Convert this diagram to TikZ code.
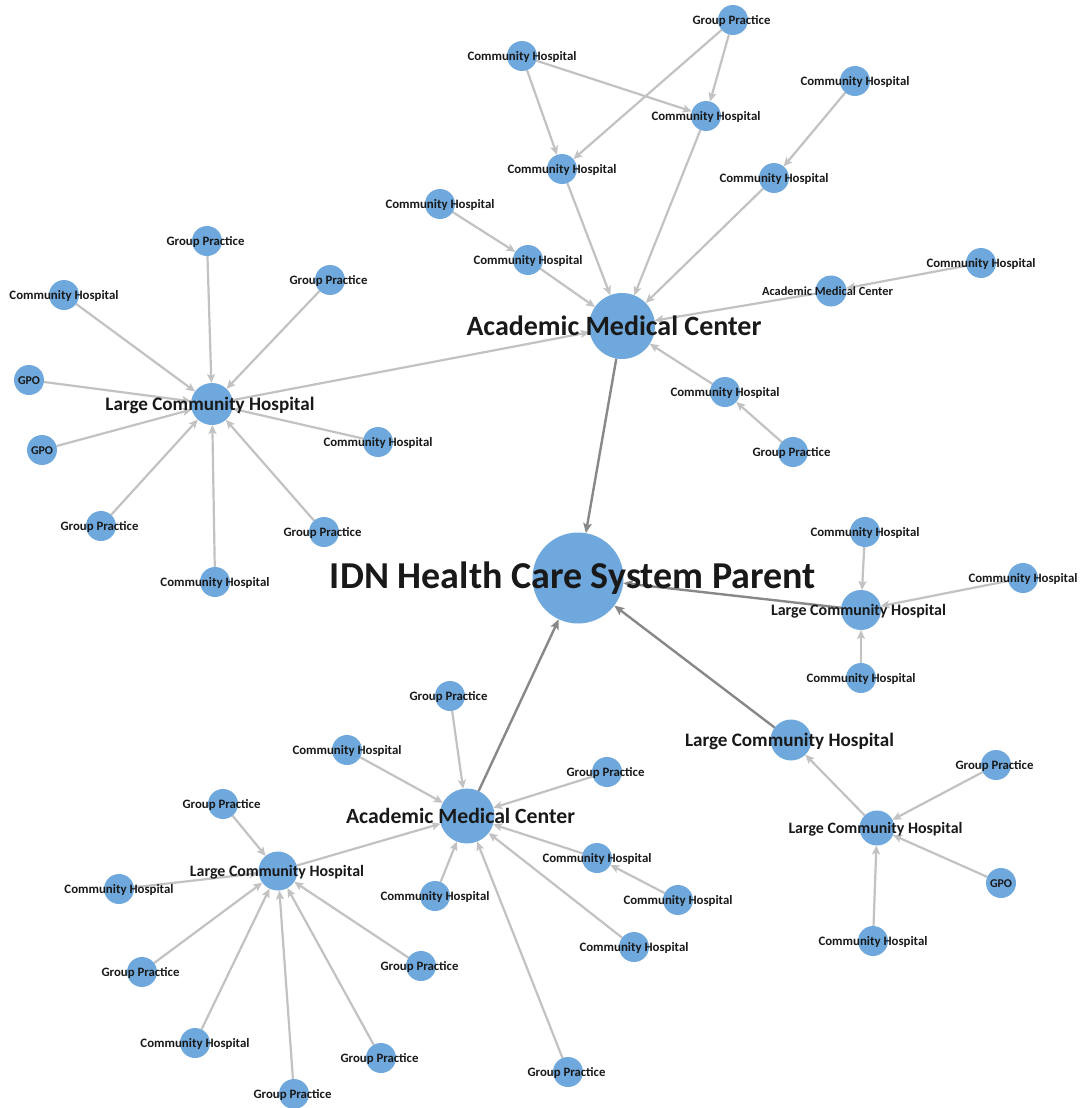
\documentclass[tikz,border=0pt]{standalone}
\usepackage{fontspec}
\setmainfont{Carlito}
\usetikzlibrary{arrows.meta}
\pgfdeclarelayer{bg}
\pgfsetlayers{bg,main}
\definecolor{nb}{RGB}{111,168,220}
\definecolor{el}{RGB}{194,194,194}
\definecolor{ed}{RGB}{136,136,136}
\tikzset{
  dot/.style={circle,fill=nb,draw=none,inner sep=0pt,outer sep=0pt},
  lab/.style={anchor=base,inner sep=0pt,text=black!90,font=\bfseries},
  le/.style={draw=el,line width=2.2pt,-{Stealth[length=9pt,width=8pt,inset=2pt]}},
  de/.style={draw=ed,line width=2.4pt,-{Stealth[length=10pt,width=8.5pt,inset=2pt]}}
}
% name, x, y, diameter, label width, baseline offset, text, label x shift
\newcommand\nd[8]{%
  \node[dot,minimum size=#4pt] (#1) at (#2,#3) {};
  \node[lab,yshift=-#6pt,xshift=#8pt] (#1-l) at (#1.center) {\resizebox{#5pt}{!}{#7}};}
\newcommand\CH[3]{\nd{#1}{#2}{#3}{30}{109}{4.3}{Community Hospital}{0}}
\newcommand\GP[3]{\nd{#1}{#2}{#3}{30}{78}{4.3}{Group Practice}{-1.5}}
\newcommand\GPO[3]{\nd{#1}{#2}{#3}{30}{22}{4.3}{GPO}{0}}
\begin{document}
\begin{tikzpicture}[x=1pt,y=-1pt]
\useasboundingbox (0,0) rectangle (1082,1108);
% ---- top cluster
\nd{amcT}{622}{326}{66}{295}{9}{Academic Medical Center}{-8}
\GP{gpT}{733}{20}
\CH{ch1}{522}{56}
\CH{ch2}{706}{116}
\CH{ch3}{562}{169}
\CH{ch4}{855}{81}
\CH{ch5}{774}{178}
\CH{ch6}{440}{204}
\CH{ch7}{528}{260}
\nd{amcS}{831}{291}{31}{131}{4.3}{Academic Medical Center}{-3.5}
\CH{ch8}{981}{263}
\CH{ch9}{725}{392}
\GP{gp9}{793}{452}
% ---- left cluster
\nd{lchL}{212}{404}{42}{209}{6}{Large Community Hospital}{-2}
\GP{gpL1}{207}{241}
\GP{gpL2}{330}{280}
\CH{chL1}{64}{295}
\GPO{gpoL1}{29}{380}
\GPO{gpoL2}{42}{450}
\CH{chL2}{378}{442}
\GP{gpL3}{101}{526}
\GP{gpL4}{324}{532}
\CH{chL3}{215}{582}
% ---- right clusters
\nd{lchR}{861}{610}{40}{175}{5}{Large Community Hospital}{-2.5}
\CH{chR1}{865}{532}
\CH{chR2}{1023}{578}
\CH{chR3}{861}{678}
\nd{lchM}{791}{740}{41}{209}{6}{Large Community Hospital}{-1.5}
\nd{lchS}{877}{828}{35}{174}{5}{Large Community Hospital}{-1.5}
\GP{gpS}{996}{765}
\GPO{gpoS}{1001}{883}
\CH{chS}{873}{941}
% ---- bottom clusters
\nd{amcB}{467}{816}{55}{229}{7}{Academic Medical Center}{-6.5}
\GP{gpB1}{450}{696}
\CH{chB1}{347}{750}
\GP{gpB2}{607}{772}
\CH{chB2}{597}{858}
\CH{chB3}{678}{900}
\CH{chB4}{435}{896}
\CH{chB5}{634}{947}
\GP{gpB3}{568}{1072}
\nd{lchB}{278}{871}{39}{174}{5}{Large Community Hospital}{-1}
\GP{gpB4}{223}{804}
\CH{chB6}{119}{889}
\GP{gpB5}{142}{972}
\CH{chB7}{195}{1043}
\GP{gpB6}{294}{1094}
\GP{gpB7}{381}{1058}
\GP{gpB8}{421}{966}
% ---- root
\nd{idn}{578}{578}{91}{486}{10}{IDN Health Care System Parent}{-5}
% ---- connectors
\begin{pgfonlayer}{bg}
\draw[le] (ch1) -- (ch3);
\draw[le] (ch1) -- (ch2);
\draw[le] (gpT) -- (ch2);
\draw[le] (gpT) -- (ch3);
\draw[le] (ch3) -- (amcT);
\draw[le] (ch2) -- (amcT);
\draw[le] (ch4) -- (ch5);
\draw[le] (ch5) -- (amcT);
\draw[le] (ch6) -- (ch7);
\draw[le] (ch7) -- (amcT);
\draw[le] (ch8) -- (amcS);
\draw[le] (amcS) -- (amcT);
\draw[le] (ch9) -- (amcT);
\draw[le] (gp9) -- (ch9);
\draw[le] (lchL) -- (amcT);
\foreach \n in {gpL1,gpL2,chL1,gpoL1,gpoL2,chL2,gpL3,gpL4,chL3}
  \draw[le] (\n) -- (lchL);
\foreach \n in {chR1,chR2,chR3}
  \draw[le] (\n) -- (lchR);
\foreach \n in {gpS,gpoS,chS}
  \draw[le] (\n) -- (lchS);
\draw[le] (lchS) -- (lchM);
\foreach \n in {gpB1,chB1,gpB2,chB2,chB4,chB5,gpB3,lchB}
  \draw[le] (\n) -- (amcB);
\draw[le] (chB3) -- (chB2);
\foreach \n in {gpB4,chB6,gpB5,chB7,gpB6,gpB7,gpB8}
  \draw[le] (\n) -- (lchB);
\draw[de] (amcT) -- (idn);
\draw[de] (amcB) -- (idn);
\draw[de] (lchR) -- (idn);
\draw[de] (lchM) -- (idn);
\end{pgfonlayer}
\end{tikzpicture}
\end{document}
